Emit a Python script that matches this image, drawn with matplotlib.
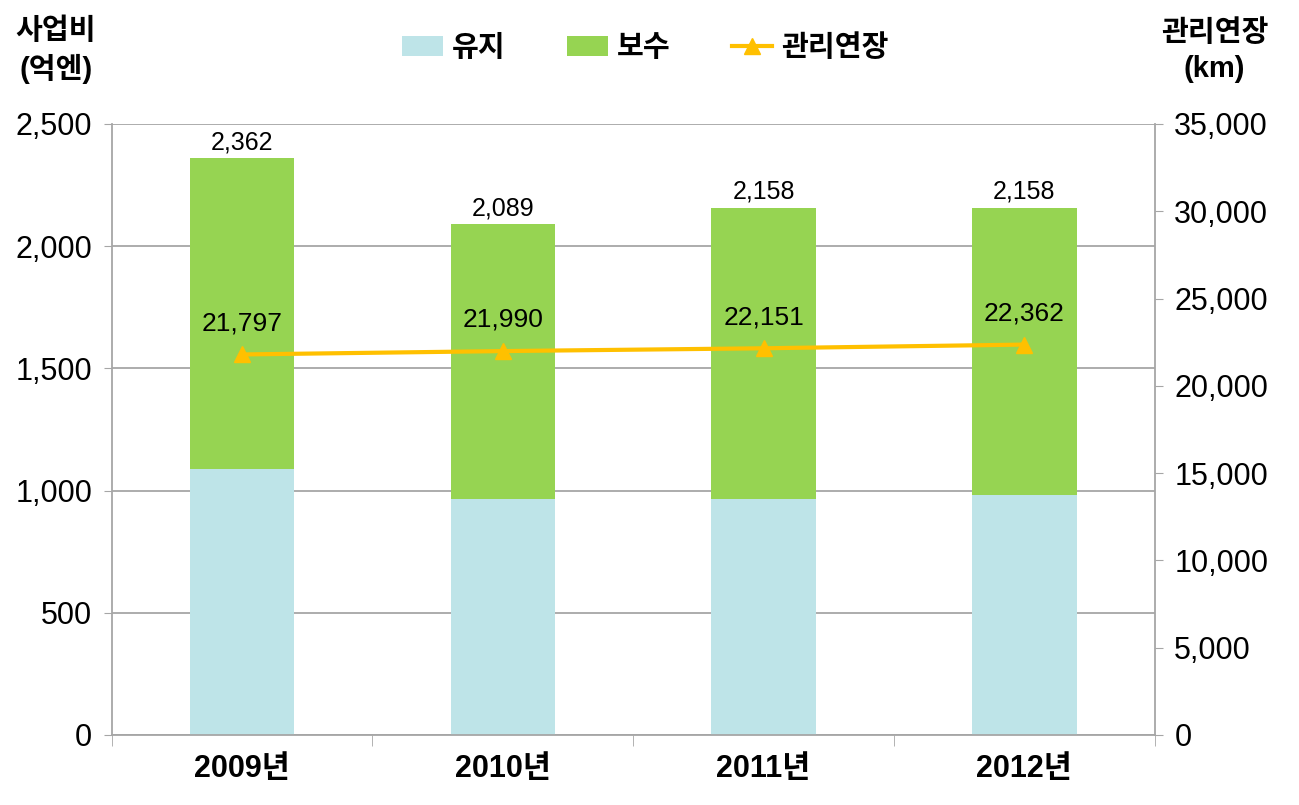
import numpy as np
import matplotlib.pyplot as plt

plt.rcParams['font.family'] = ['Liberation Sans', 'Noto Sans CJK KR', 'DejaVu Sans']

# 데이터
years = ['2009년', '2010년', '2011년', '2012년']
yuji = [1090, 965, 965, 982]           # 유지
total = [2362, 2089, 2158, 2158]        # 사업비 합계
bosu = [t - y for t, y in zip(total, yuji)]  # 보수
length_km = [21797, 21990, 22151, 22362]    # 관리연장

c_yuji = '#BEE4E8'
c_bosu = '#96D452'
c_line = '#FFC000'
c_grid = '#A6A6A6'

fig = plt.figure(figsize=(12.99, 8.05), dpi=100)
ax = fig.add_axes([0.086, 0.087, 0.803, 0.759])
x = np.arange(len(years))

ax.bar(x, yuji, width=0.4, color=c_yuji, zorder=2, label='유지')
ax.bar(x, bosu, width=0.4, bottom=yuji, color=c_bosu, zorder=2, label='보수')
for xi, t in zip(x, total):
    ax.text(xi, t + 15, f'{t:,}', ha='center', va='bottom', fontsize=18)

ax.set_ylim(0, 2500)
ax.set_xlim(-0.5, len(years) - 0.5)
ax.set_yticks(np.arange(0, 2501, 500))
ax.set_yticklabels([f'{v:,}' for v in range(0, 2501, 500)], fontsize=22)
ax.yaxis.grid(True, color=c_grid, linewidth=1.3, zorder=0)
ax.set_axisbelow(True)
ax.set_xticks(x)
ax.set_xticklabels(years, fontsize=22, fontweight='bold')
ax.set_xticks(np.arange(-0.5, len(years), 1), minor=True)
ax.tick_params(axis='x', which='major', length=0, pad=14)
ax.tick_params(axis='x', which='minor', length=8, color=c_grid)
ax.tick_params(axis='y', length=6, color=c_grid, pad=8)
for s in ['left', 'right', 'bottom']:
    ax.spines[s].set_color(c_grid)
    ax.spines[s].set_linewidth(1.3)
ax.spines['top'].set_visible(False)

ax2 = ax.twinx()
ax2.plot(x, length_km, color=c_line, linewidth=3, marker='^', markersize=11,
         zorder=3, label='관리연장')
for xi, v in zip(x, length_km):
    ax2.text(xi, v + 1100, f'{v:,}', ha='center', va='bottom', fontsize=19)
ax2.set_ylim(0, 35000)
ax2.set_yticks(np.arange(0, 35001, 5000))
ax2.set_yticklabels([f'{v:,}' for v in range(0, 35001, 5000)], fontsize=22)
ax2.tick_params(axis='y', length=6, color=c_grid, pad=8)
for s in ['left', 'right', 'bottom', 'top']:
    ax2.spines[s].set_visible(False)

fig.text(0.043, 0.937, '사업비\n(억엔)', ha='center', va='center', fontsize=21,
         fontweight='bold', linespacing=1.35)
fig.text(0.935, 0.937, '관리연장\n(km)', ha='center', va='center', fontsize=21,
         fontweight='bold', linespacing=1.35)

h1, l1 = ax.get_legend_handles_labels()
h2, l2 = ax2.get_legend_handles_labels()
fig.legend(h1 + h2, l1 + l2, loc='center', bbox_to_anchor=(0.497, 0.94), ncol=3,
           frameon=False, prop={'size': 21, 'weight': 'bold'}, handlelength=1.4,
           columnspacing=2.1, handletextpad=0.3)

fig.savefig('out.png', dpi=100)
